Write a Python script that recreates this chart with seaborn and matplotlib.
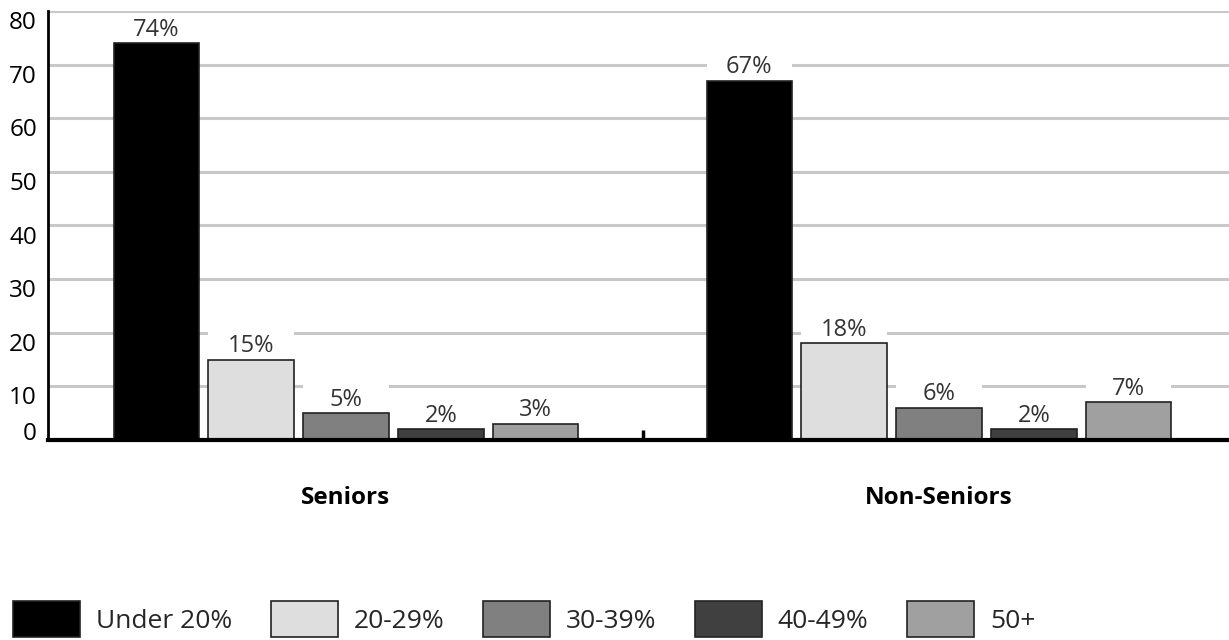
import matplotlib
matplotlib.use("Agg")
import matplotlib.pyplot as plt
import seaborn as sns
import pandas as pd

# Share of income spent, by bracket, for the two groups
groups = ["Seniors", "Non-Seniors"]
brackets = ["Under 20%", "20-29%", "30-39%", "40-49%", "50+"]
seniors = [74, 15, 5, 2, 3]
non_seniors = [67, 18, 6, 2, 7]
yticks = [0, 10, 20, 30, 40, 50, 60, 70, 80]

colors = ["#000000", "#dedede", "#808080", "#404040", "#a0a0a0"]

df = pd.DataFrame({
    "group": [groups[0]] * len(brackets) + [groups[1]] * len(brackets),
    "bracket": brackets * 2,
    "value": seniors + non_seniors,
})

sns.set_theme(style="white")
plt.rcParams["font.family"] = ["Open Sans", "DejaVu Sans"]

fig = plt.figure(figsize=(12.29, 6.4), dpi=100)
ax = fig.add_axes([48 / 1229, 200 / 640, 1 - 48 / 1229, 429 / 640])

sns.barplot(
    data=df, x="group", y="value", hue="bracket",
    order=groups, hue_order=brackets, palette=colors,
    width=0.8, gap=0.1, edgecolor="#222222", linewidth=1.2,
    legend=False, ax=ax, zorder=3,
)
bar_containers = list(ax.containers)

ax.set_ylim(0, 80)
ax.set_xlim(-0.5025, 1.489)

# light horizontal grid
ax.set_yticks(yticks)
ax.yaxis.grid(True, color="#c8c8c8", linewidth=2.2, zorder=0)
ax.xaxis.grid(False)
ax.set_axisbelow(True)

# value labels on white tabs that interrupt the grid
for cont in bar_containers:
    for patch in cont.patches:
        h = patch.get_height()
        tab = plt.Rectangle((patch.get_x(), h), patch.get_width(), 5.5,
                            facecolor="white", linewidth=0, zorder=2)
        ax.add_patch(tab)
        ax.annotate(f"{h:.0f}%", (patch.get_x() + patch.get_width() / 2, h),
                    xytext=(0, 5.5), textcoords="offset points",
                    ha="center", va="baseline", fontsize=17,
                    color="#333333", zorder=4)

# spines
for side in ["top", "right"]:
    ax.spines[side].set_visible(False)
ax.spines["left"].set_color("black")
ax.spines["left"].set_linewidth(2)
ax.spines["bottom"].set_color("black")
ax.spines["bottom"].set_linewidth(3)
ax.spines["bottom"].set_zorder(5)

# y tick labels sit just below their grid lines
ax.tick_params(axis="y", left=False, length=0, pad=8, labelsize=17.5,
               labelcolor="black")
for lbl, v in zip(ax.get_yticklabels(), yticks):
    lbl.set_va("baseline" if v == 0 else "top")

# category labels and the separator tick between groups
ax.set_xticks([0, 1])
ax.set_xticklabels(groups, fontsize=17.5, fontweight="bold", color="black")
ax.tick_params(axis="x", which="major", length=0, pad=33)
ax.set_xticks([0.5], minor=True)
ax.tick_params(axis="x", which="minor", bottom=True, direction="in",
               length=7, width=2.5, color="black")
ax.set_xlabel("")
ax.set_ylabel("")

handles = [cont.patches[0] for cont in bar_containers]
fig.legend(
    handles, brackets, loc="upper left",
    bbox_to_anchor=(13 / 1229, 1 - 601 / 640),
    ncol=5, frameon=False, fontsize=19,
    handlelength=2.55, handleheight=1.75, handletextpad=0.6,
    columnspacing=1.45, borderpad=0, borderaxespad=0,
)

fig.savefig("out.png", dpi=100, facecolor="white")
